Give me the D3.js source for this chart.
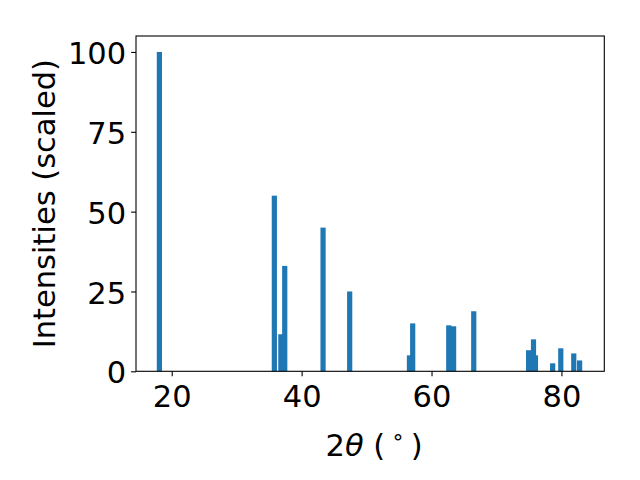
<!DOCTYPE html>
<html>
<head>
<meta charset="utf-8">
<script src="https://cdn.jsdelivr.net/npm/d3@7"></script>
<style>
  html, body { margin: 0; padding: 0; background: #fff; }
  svg { display: block; }
  text { font-family: "DejaVu Sans", sans-serif; }
</style>
</head>
<body>
<svg id="chart" width="640" height="480"></svg>
<script>
// Data
const angles = [18.1, 35.8, 36.8, 37.4, 43.3, 47.4, 56.6, 57.1, 62.65, 63.4, 66.5, 74.95, 75.7, 76.0, 78.65, 79.9, 81.9, 82.8];
const intensities = [100, 55, 11.6, 33, 45, 25, 5, 15, 14.4, 14.1, 18.8, 6.6, 10, 5, 2.5, 7.2, 5.6, 3.4];
const xTicks = [20, 40, 60, 80];
const yTicks = [0, 25, 50, 75, 100];
const xLabel = "2θ (°)";
const yLabel = "Intensities (scaled)";
const barWidth = 0.8;

const svg = d3.select("#chart");
const L = 136, R = 604.3, T = 36, B = 371.3;
const fs = 30.5;
const tickLen = 4.86;

const x = d3.scaleLinear().domain([14.5, 86.6]).range([L, R]);
const y = d3.scaleLinear().domain([0, 105]).range([B, T]);

// bars
svg.append("g").selectAll("rect")
  .data(angles.map((a, i) => ({a, v: intensities[i]})))
  .join("rect")
  .attr("x", d => x(d.a - barWidth / 2))
  .attr("width", d => x(d.a + barWidth / 2) - x(d.a - barWidth / 2))
  .attr("y", d => y(d.v))
  .attr("height", d => y(0) - y(d.v))
  .attr("fill", "#1f77b4");

// frame
svg.append("rect")
  .attr("x", L).attr("y", T).attr("width", R - L).attr("height", B - T)
  .attr("fill", "none").attr("stroke", "#000").attr("stroke-width", 1.1);

// x axis
const gx = svg.append("g").attr("transform", `translate(0,${B})`)
  .call(d3.axisBottom(x).tickValues(xTicks).tickSize(tickLen).tickSizeOuter(0).tickPadding(9).tickFormat(d3.format("d")));
gx.select(".domain").remove();
gx.selectAll(".tick line").attr("stroke", "#000").attr("stroke-width", 1.1);
gx.selectAll(".tick text").attr("fill", "#000").attr("font-size", fs).attr("font-family", "DejaVu Sans");

// y axis
const gy = svg.append("g").attr("transform", `translate(${L},0)`)
  .call(d3.axisLeft(y).tickValues(yTicks).tickSize(tickLen).tickSizeOuter(0).tickPadding(5).tickFormat(d3.format("d")));
gy.select(".domain").remove();
gy.selectAll(".tick line").attr("stroke", "#000").attr("stroke-width", 1.1);
gy.selectAll(".tick text").attr("fill", "#000").attr("font-size", fs).attr("font-family", "DejaVu Sans").attr("dy", "0.38em");

// x label (mathtext-like)
const xl = svg.append("text")
  .attr("x", (L + R) / 2 + 4).attr("y", 456)
  .attr("text-anchor", "middle").attr("font-size", fs).attr("fill", "#000");
xl.append("tspan").text("2");
xl.append("tspan").attr("font-style", "italic").text("θ");
xl.append("tspan").text(" (\u2009");
xl.append("tspan").attr("font-size", fs * 0.7).attr("dy", -12).text("∘");
xl.append("tspan").attr("dy", 12).text("\u2009)");

// y label
svg.append("text")
  .attr("transform", `translate(55,${(T + B) / 2}) rotate(-90)`)
  .attr("text-anchor", "middle").attr("font-size", fs).attr("fill", "#000")
  .text(yLabel);
</script>
</body>
</html>
